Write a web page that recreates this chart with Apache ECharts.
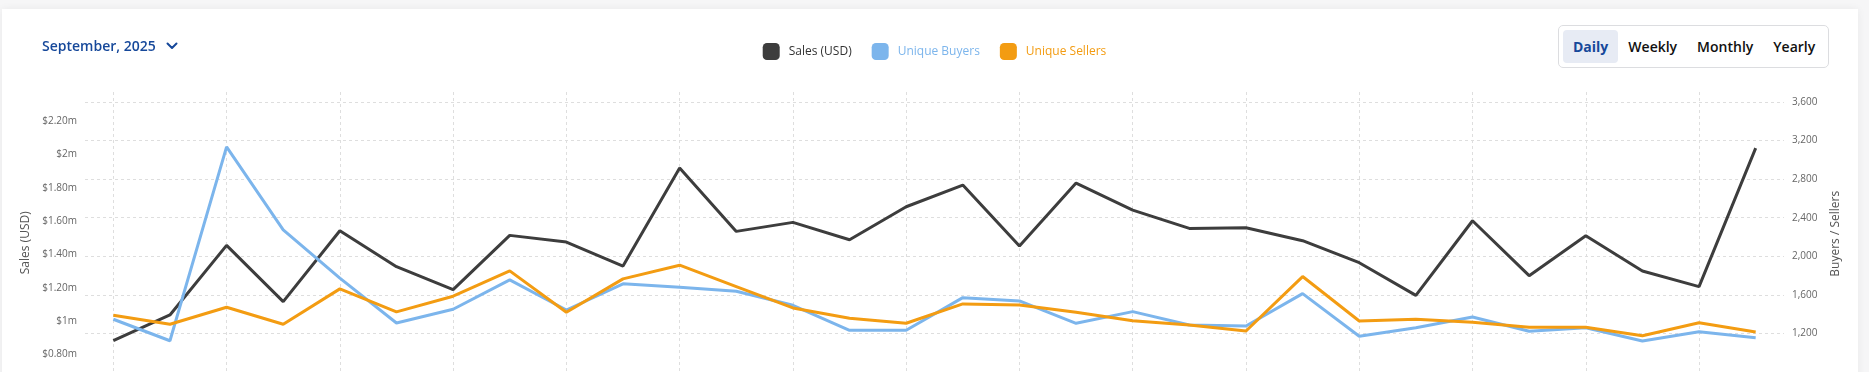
<!DOCTYPE html>
<html>
<head>
<meta charset="utf-8">
<script src="https://cdn.jsdelivr.net/npm/echarts@6/dist/echarts.min.js"></script>
<style>
  html, body { margin: 0; padding: 0; width: 1869px; height: 372px; overflow: hidden; background: #f6f6f7; font-family: "Open Sans", "Noto Sans", sans-serif; }
  #card { position: absolute; left: 2px; top: 9px; width: 1856px; height: 600px; background: #fff; box-shadow: 0 0 8px rgba(0,0,0,0.06); }
  #chart { position: absolute; left: 0; top: 0; width: 1869px; height: 560px; }
  #month { position: absolute; left: 42px; top: 36px; font-size: 14px; font-weight: 600; color: #16489a; line-height: 20px; white-space: nowrap; }
  #month svg { position: absolute; left: 124px; top: 6px; }
  #btns { position: absolute; left: 1558px; top: 25px; height: 33px; padding: 4px 3px 4px 4px; border: 1px solid #dcdde0; border-radius: 5px; background: #fff; display: flex; }
  #btns div { padding: 0 10px; height: 33px; line-height: 33px; font-size: 14px; font-weight: 600; color: #111; border-radius: 4px; white-space: nowrap; }
  #btns div.on { background: #e7ebf4; color: #16489a; font-weight: 700; }
</style>
</head>
<body>
<div id="card"></div>
<div id="chart"></div>
<div id="month">September, 2025<svg width="12" height="8" viewBox="0 0 12 8"><polyline points="1.5,1.5 6,6 10.5,1.5" fill="none" stroke="#16489a" stroke-width="2" stroke-linecap="round" stroke-linejoin="round"/></svg></div>
<div id="btns"><div class="on">Daily</div><div>Weekly</div><div>Monthly</div><div>Yearly</div></div>
<script>
// ---- data ----
const days = ['Sep 1','Sep 2','Sep 3','Sep 4','Sep 5','Sep 6','Sep 7','Sep 8','Sep 9','Sep 10',
  'Sep 11','Sep 12','Sep 13','Sep 14','Sep 15','Sep 16','Sep 17','Sep 18','Sep 19','Sep 20',
  'Sep 21','Sep 22','Sep 23','Sep 24','Sep 25','Sep 26','Sep 27','Sep 28','Sep 29','Sep 30'];
const salesUSD = [882000, 1036000, 1454000, 1116000, 1542000, 1326000, 1188000, 1514000, 1474000, 1330000,
  1918000, 1538000, 1592000, 1488000, 1686000, 1816000, 1450000, 1828000, 1666000, 1556000,
  1560000, 1482000, 1350000, 1154000, 1602000, 1272000, 1512000, 1300000, 1206000, 2038000];
const uniqueBuyers = [1346, 1123, 3134, 2274, 1772, 1307, 1450, 1754, 1442, 1713,
  1678, 1637, 1491, 1231, 1231, 1570, 1536, 1304, 1425, 1286,
  1276, 1612, 1169, 1258, 1370, 1221, 1258, 1120, 1217, 1154];
const uniqueSellers = [1387, 1294, 1470, 1294, 1661, 1422, 1585, 1848, 1418, 1765,
  1907, 1685, 1463, 1356, 1304, 1505, 1494, 1418, 1331, 1286,
  1224, 1789, 1328, 1346, 1314, 1262, 1262, 1175, 1310, 1214];
const seriesNames = ['Sales (USD)', 'Unique Buyers', 'Unique Sellers'];
const salesTicks = { min: 0, max: 2375000, interval: 200000, lowestLabel: 800000 };
const countTicks = { min: -400, max: 3704, interval: 400, lowestLabel: 1200 };

const colors = ['#3d3d3d', '#7cb5ec', '#f39c12'];
const font = '"Open Sans", "Noto Sans", sans-serif';

function fmtSales(v) {
  if (v < salesTicks.lowestLabel) return '';
  const m = v / 1e6;
  return '$' + (Math.abs(m - Math.round(m)) < 1e-9 ? String(Math.round(m)) : m.toFixed(2)) + 'm';
}
function fmtCount(v) {
  if (v < countTicks.lowestLabel) return '';
  return v.toLocaleString('en-US');
}

const chart = echarts.init(document.getElementById('chart'), null, { renderer: 'canvas' });
chart.setOption({
  animation: false,
  color: colors,
  textStyle: { fontFamily: font },
  legend: {
    top: 38, left: 'center', itemWidth: 17, itemHeight: 17, itemGap: 20, icon: 'roundRect',
    textStyle: { fontFamily: font, fontSize: 12, padding: [0, 0, 0, 4] },
    data: [
      { name: seriesNames[0], textStyle: { color: '#333' } },
      { name: seriesNames[1], textStyle: { color: colors[1] } },
      { name: seriesNames[2], textStyle: { color: colors[2] } }
    ]
  },
  grid: { left: 85, right: 85, top: 92, height: 395.5, containLabel: false },
  xAxis: {
    type: 'category', data: days, boundaryGap: true,
    axisLine: { show: false }, axisTick: { show: false },
    axisLabel: { interval: 1, color: '#666', fontSize: 10 },
    splitLine: { show: true, interval: 1, alignWithLabel: true, lineStyle: { type: [3, 3], color: '#dedede' } }
  },
  yAxis: [
    {
      type: 'value', position: 'left', min: salesTicks.min, max: salesTicks.max, interval: salesTicks.interval,
      name: 'Sales (USD)', nameLocation: 'middle', nameGap: 52, nameRotate: 90,
      nameTextStyle: { fontFamily: font, fontSize: 12, color: '#555', padding: [0, 0, 0, 94] },
      axisLine: { show: false }, axisTick: { show: false },
      axisLabel: { formatter: fmtSales, color: '#666', fontSize: 10, fontFamily: font, margin: 8, showMaxLabel: false },
      splitLine: { show: false }
    },
    {
      type: 'value', position: 'right', min: countTicks.min, max: countTicks.max, interval: countTicks.interval,
      name: 'Buyers / Sellers', nameLocation: 'middle', nameGap: 46, nameRotate: 90,
      nameTextStyle: { fontFamily: font, fontSize: 12, color: '#555', padding: [0, 0, 0, 112] },
      axisLine: { show: false }, axisTick: { show: false },
      axisLabel: { formatter: fmtCount, color: '#666', fontSize: 10, fontFamily: font, margin: 8, showMaxLabel: false },
      splitLine: { show: true, showMaxLine: false, lineStyle: { type: [3, 3], color: '#dedede' } }
    }
  ],
  series: [
    { name: seriesNames[0], type: 'line', yAxisIndex: 0, data: salesUSD, showSymbol: false, symbol: 'none', lineStyle: { width: 3, color: colors[0] } },
    { name: seriesNames[1], type: 'line', yAxisIndex: 1, data: uniqueBuyers, showSymbol: false, symbol: 'none', lineStyle: { width: 3, color: colors[1] } },
    { name: seriesNames[2], type: 'line', yAxisIndex: 1, data: uniqueSellers, showSymbol: false, symbol: 'none', lineStyle: { width: 3, color: colors[2] } }
  ]
});
</script>
</body>
</html>
